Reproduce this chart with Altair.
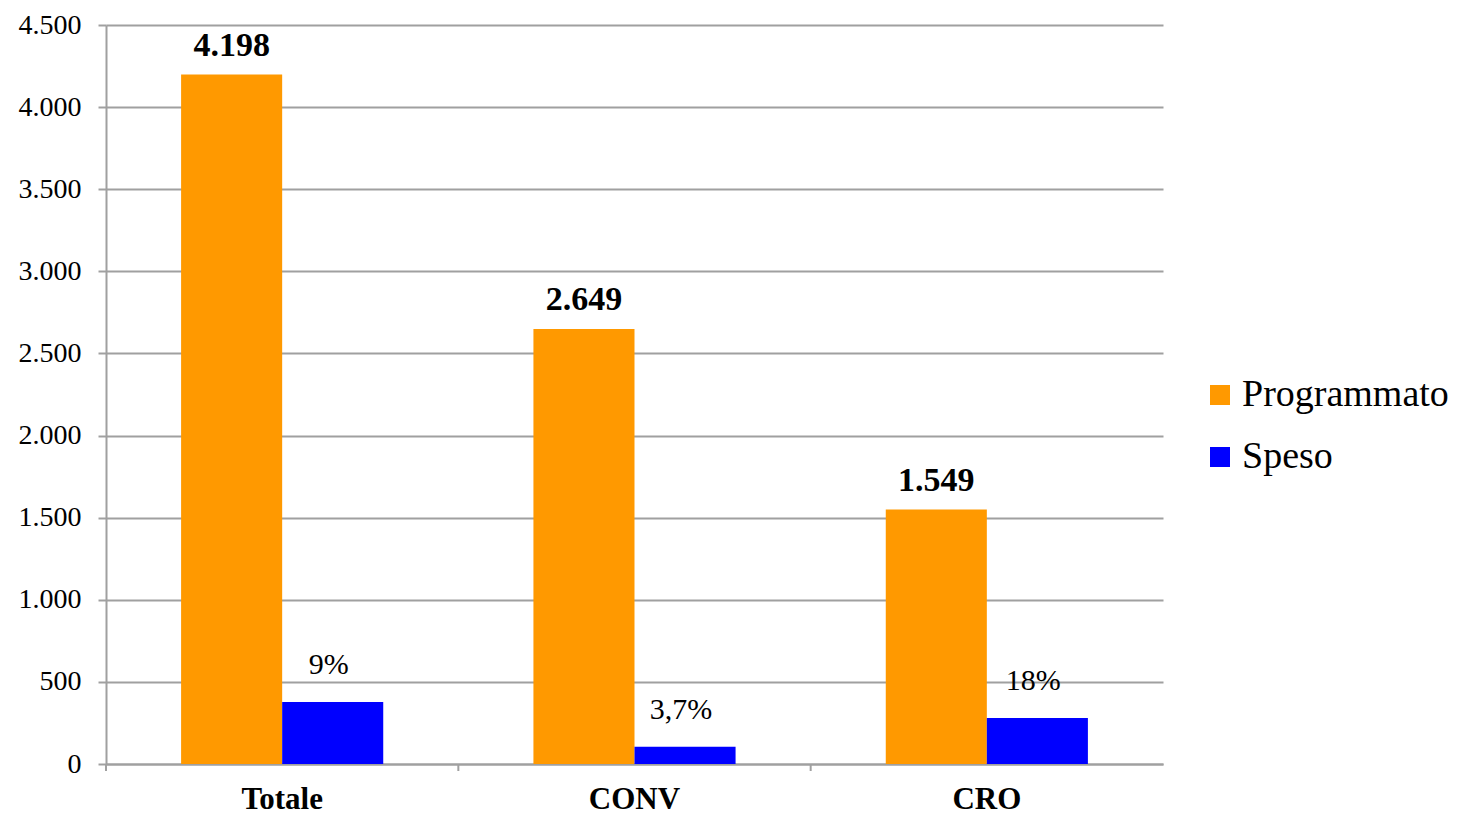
import altair as alt
import pandas as pd

categories = ["Totale", "CONV", "CRO"]
programmato = [4198, 2649, 1549]
speso = [378, 105, 280]
speso_pct = ["9%", "3,7%", "18%"]
series = ["Programmato", "Speso"]
colors = ["#FF9900", "#0000FF"]
y_ticks = [0, 500, 1000, 1500, 2000, 2500, 3000, 3500, 4000, 4500]

FONT = "Liberation Serif"
GRID = "#A0A0A0"

rows = []
for c, p, s, pct in zip(categories, programmato, speso, speso_pct):
    rows.append(dict(cat=c, serie="Programmato", val=p, lab=f"{p:,}".replace(",", ".")))
    rows.append(dict(cat=c, serie="Speso", val=s, lab=pct))
df = pd.DataFrame(rows)
cats_df = pd.DataFrame({"cat": categories})

x_enc = alt.X(
    "cat:N", sort=categories, title=None,
    scale=alt.Scale(paddingInner=0, paddingOuter=0),
    axis=alt.Axis(
        labelFont=FONT, labelFontSize=31, labelFontWeight="bold", labelColor="black",
        labelAngle=0, labelBaseline="top", labelPadding=20, ticks=False,
        domainColor=GRID, domainWidth=2, grid=False,
    ),
)
xoff = alt.XOffset("serie:N", sort=series,
                   scale=alt.Scale(paddingInner=0, paddingOuter=0.743))
y_enc = alt.Y(
    "val:Q", title=None,
    scale=alt.Scale(domain=[0, 4500], nice=False),
    axis=alt.Axis(
        values=y_ticks,
        labelExpr="replace(format(datum.value, ','), ',', '.')",
        labelFont=FONT, labelFontSize=28, labelColor="black", labelPadding=17,
        gridColor=GRID, gridWidth=2, domainColor=GRID, domainWidth=2,
        tickColor=GRID, tickWidth=2, tickSize=8,
    ),
)

base = alt.Chart(df)

bars = base.mark_bar().encode(
    x=x_enc, xOffset=xoff, y=y_enc,
    color=alt.Color(
        "serie:N", sort=series,
        scale=alt.Scale(domain=series, range=colors),
        legend=alt.Legend(
            title=None, orient="none", legendX=1095, legendY=351,
            symbolType="square", symbolSize=400, symbolStrokeWidth=0,
            labelFont=FONT, labelFontSize=38, labelColor="black", labelLimit=400,
            labelOffset=3, rowPadding=24, padding=0,
        ),
    ),
)

prog_text = base.transform_filter(alt.datum.serie == "Programmato").mark_text(
    font=FONT, fontSize=34, fontWeight="bold", color="black",
    baseline="bottom", dy=-12,
).encode(x=alt.X("cat:N", sort=categories), xOffset=xoff, y="val:Q", text="lab:N")

speso_text = base.transform_filter(alt.datum.serie == "Speso").mark_text(
    font=FONT, fontSize=30, color="black", baseline="bottom", dy=-22, dx=-4,
).encode(x=alt.X("cat:N", sort=categories), xOffset=xoff, y="val:Q", text="lab:N")

ticks = alt.Chart(cats_df).mark_rule(color=GRID, strokeWidth=2).encode(
    x=alt.X("cat:N", sort=categories, bandPosition=0),
    y=alt.value(739), y2=alt.value(746),
)

chart = alt.layer(bars, prog_text, speso_text, ticks).properties(
    width=1057, height=739,
    padding={"left": 98, "top": 17, "right": 293, "bottom": 50},
    autosize=alt.AutoSizeParams(type="none"),
).configure_view(stroke=None)

chart.save("out.html", embed_options={"renderer": "svg", "actions": False})
